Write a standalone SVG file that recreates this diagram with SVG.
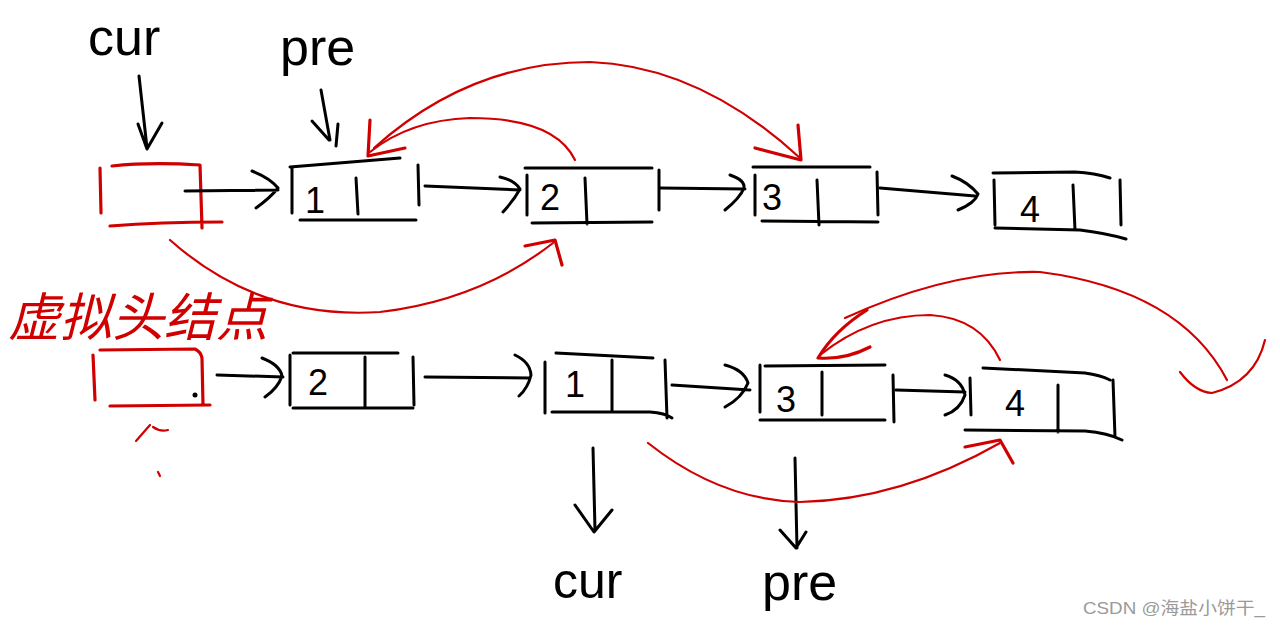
<svg xmlns="http://www.w3.org/2000/svg" width="1280" height="628" viewBox="0 0 1280 628">
<style>
.k{fill:none;stroke:#000;stroke-width:3;stroke-linecap:round;stroke-linejoin:round}
.r{fill:none;stroke:#d00000;stroke-width:2.2;stroke-linecap:round;stroke-linejoin:round}
.rb{fill:none;stroke:#d00000;stroke-width:3.2;stroke-linecap:round;stroke-linejoin:round}
.hw{font-family:"Liberation Sans","DejaVu Sans",sans-serif;fill:#000}
.num{font-family:"Liberation Sans","DejaVu Sans",sans-serif;font-size:36px;fill:#000}
.wm{font-family:"Liberation Sans","Noto Sans CJK SC",sans-serif;font-size:17px;fill:#9a9a9a}
</style>
<rect width="1280" height="628" fill="#fff"/>

<!-- Top row -->
<g id="label-cur-top">
  <text class="hw" x="88" y="55" font-size="52">cur</text>
  <path class="k" d="M139 76 L147 148 M138 124 L147 149 L162 123"/>
</g>
<g id="label-pre-top">
  <text class="hw" x="280" y="65" font-size="52">pre</text>
  <path class="k" d="M321 90 L330 140 M312 121 L329 140 M338 124 L336 146"/>
</g>
<g id="dummy-top">
  <path class="rb" d="M100 168 L101 213 M112 166 Q150 162 200 165 L202 228 M110 226 Q160 222 222 222"/>
</g>
<g id="node1-top">
  <path class="k" d="M290 167 L400 158 M292 168 L292 213 M300 220 L416 220 M356 178 L358 214 M418 165 L419 205"/>
  <text class="num" x="305" y="213">1</text>
</g>
<g id="node2-top">
  <path class="k" d="M525 168 L652 168 M527 175 L527 215 M532 223 L652 222 M585 178 L587 224 M659 170 L659 210"/>
  <text class="num" x="540" y="210">2</text>
</g>
<g id="node3-top">
  <path class="k" d="M753 167 L870 167 M755 175 L755 215 M762 221 L878 222 M817 180 L819 225 M877 172 L878 215"/>
  <text class="num" x="762" y="210">3</text>
</g>
<g id="node4-top">
  <path class="k" d="M993 173 L1075 172 Q1095 173 1110 178 M994 180 L995 225 M995 228 L1080 230 Q1105 233 1126 239 M1073 185 L1075 230 M1120 180 L1121 225"/>
  <text class="num" x="1020" y="222">4</text>
</g>

<!-- Bottom row -->
<g id="label-dummy">
  <text x="8" y="336" font-family="'Noto Sans CJK SC','Liberation Sans',sans-serif" font-size="52" fill="#d00000" font-style="italic">虚拟头结点</text>
</g>
<g id="dummy-bottom">
  <path class="rb" d="M93 355 L95 400 M100 350 L195 349 Q201 352 202 358 L203 405 M110 406 L210 405"/>
  <circle cx="195" cy="395" r="2.5" fill="#000"/>
  <path class="r" d="M136 441 L150 425 M153 427 Q160 432 168 430 M158 472 L160 476"/>
</g>
<g id="node2-bottom">
  <path class="k" d="M293 353 L398 353 M290 355 L290 405 M293 408 L413 408 M365 357 L365 408 M413 357 L414 405"/>
  <text class="num" x="308" y="395">2</text>
</g>
<g id="node1-bottom">
  <path class="k" d="M556 353 L653 358 M545 362 L545 413 M552 412 L650 412 Q665 413 672 418 M612 360 L612 412 M665 360 L667 418"/>
  <text class="num" x="565" y="397">1</text>
</g>
<g id="node3-bottom">
  <path class="k" d="M765 366 L885 365 M760 365 L760 412 M760 420 L885 420 M822 372 L822 415 M893 375 L894 422"/>
  <text class="num" x="776" y="412">3</text>
</g>
<g id="node4-bottom">
  <path class="k" d="M983 368 L1085 373 Q1100 375 1110 380 M970 378 L971 415 M965 430 L1085 431 Q1108 433 1122 440 M1058 385 L1058 432 M1113 380 L1115 437"/>
  <text class="num" x="1005" y="416">4</text>
</g>
<g id="label-cur-bottom">
  <path class="k" d="M593 448 L595 530 M575 505 L594 532 L612 510"/>
  <text class="hw" x="553" y="598" font-size="50">cur</text>
</g>
<g id="label-pre-bottom">
  <path class="k" d="M795 458 L797 548 M780 530 L796 548 L806 532"/>
  <text class="hw" x="762" y="600" font-size="52">pre</text>
</g>

<g id="connectors">
  <!-- black next pointers top -->
  <path class="k" d="M185 191 L278 190 M252 171 Q270 178 278 188 Q270 198 256 208"/>
  <path class="k" d="M425 186 L520 190 M500 177 Q514 180 520 189 Q514 200 503 212"/>
  <path class="k" d="M660 188 L745 189 M730 175 Q745 180 744 188 Q740 198 725 210"/>
  <path class="k" d="M880 188 L975 196 M952 176 Q968 182 978 194 Q975 203 958 210"/>
  <!-- black next pointers bottom -->
  <path class="k" d="M217 375 L283 377 M262 358 Q280 365 282 376 Q278 388 265 397"/>
  <path class="k" d="M425 377 L530 378 M515 355 Q530 362 531 375 Q528 388 519 396"/>
  <path class="k" d="M672 385 L750 390 M725 365 Q744 370 748 383 Q742 398 725 407"/>
  <path class="k" d="M896 390 L965 392 M945 375 Q962 380 965 395 Q960 410 945 415"/>
  <!-- red pointer changes top -->
  <path class="r" d="M575 160 Q555 118 470 118 Q410 120 370 152"/>
  <path class="rb" d="M370 120 L368 156 L405 148"/>
  <path class="r" d="M374 148 Q470 62 590 62 Q700 66 800 158"/>
  <path class="rb" d="M798 125 L801 160 L755 148"/>
  <path class="r" d="M170 240 Q260 320 380 312 Q480 300 553 243"/>
  <path class="rb" d="M525 246 L555 240 L562 265"/>
  <!-- red pointer changes bottom -->
  <path class="r" d="M1000 360 Q980 318 930 315 Q870 315 820 355"/>
  <path class="r" d="M1227 380 Q1180 290 1040 272 Q950 270 845 318"/>
  <path class="rb" d="M867 310 Q835 330 818 358 Q845 360 870 347"/>
  <path class="r" d="M1180 372 Q1195 392 1212 393 Q1255 382 1265 340"/>
  <path class="r" d="M648 443 Q720 500 800 502 Q900 500 1000 443"/>
  <path class="rb" d="M965 447 L1000 440 L1013 463"/>
</g>

<text class="wm" x="1083" y="614" textLength="182" lengthAdjust="spacingAndGlyphs">CSDN @海盐小饼干_</text>
</svg>
